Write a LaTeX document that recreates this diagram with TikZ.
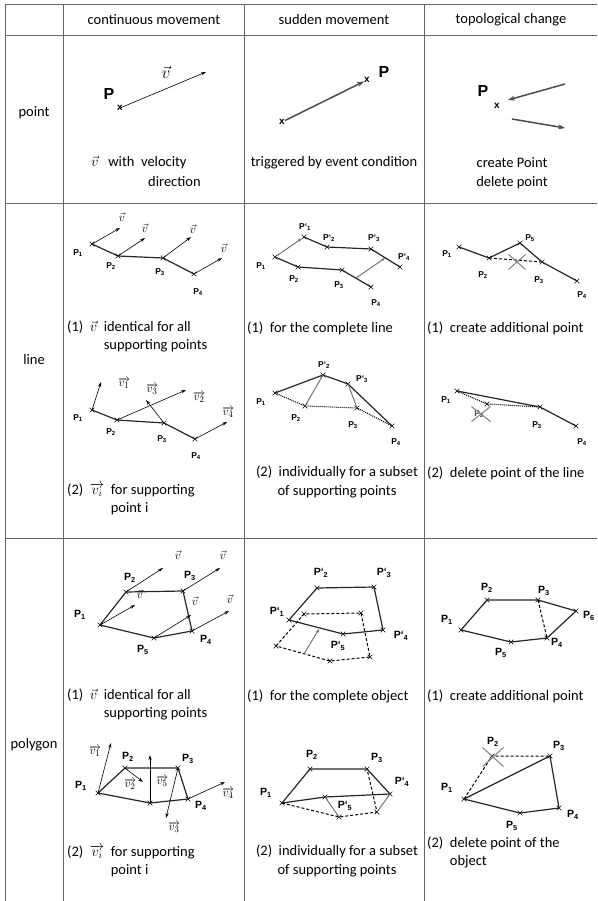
\documentclass[tikz,border=0pt]{standalone}
\usepackage{fontspec}
\setmainfont{Carlito}
\newfontfamily\arialf{Liberation Sans}
\usetikzlibrary{arrows.meta,shapes.misc}
\newcommand{\Pn}[1]{P\textsubscript{#1}}
\newcommand{\Pq}[1]{P‘\textsubscript{#1}}
\tikzset{
  gridl/.style={draw=black!60, line width=0.8pt},
  txt/.style={font=\fontsize{14.5}{18.5}\selectfont, inner sep=0pt},
  labs/.style={font=\arialf\bfseries\fontsize{8.5}{10}\selectfont, inner sep=0pt},
  labm/.style={font=\arialf\bfseries\fontsize{10.5}{12}\selectfont, inner sep=0pt},
  bigP/.style={font=\arialf\bfseries\fontsize{16}{18}\selectfont, inner sep=0pt},
  xt/.style={font=\arialf\bfseries\fontsize{10}{10}\selectfont, inner sep=0pt},
  xm/.style={cross out, draw, minimum size=4pt, inner sep=0pt, line width=0.6pt},
  gX/.style={cross out, draw=black!50, line width=1pt, inner sep=0pt},
  vec/.style={-{Stealth[length=5pt,width=3.2pt]}, line width=0.6pt},
  gvec/.style={-{Stealth[length=7pt,width=5pt]}, line width=1.5pt, draw=black!70},
  garr/.style={-{Stealth[length=4pt,width=3pt]}, line width=1pt, draw=black!55},
  gseg/.style={line width=1pt, draw=black!55},
  edg/.style={line width=1.2pt, draw=black!85},
  dsh/.style={line width=1pt, dash pattern=on 3pt off 2pt},
  dts/.style={line width=1.1pt, dash pattern=on 1pt off 1pt},
  vl/.style={inner sep=0pt, font=\fontsize{12.5}{12.5}\selectfont},
  vlbig/.style={inner sep=0pt, font=\fontsize{17}{17}\selectfont}
}
\begin{document}
\begin{tikzpicture}[x=1pt,y=-1pt]
\useasboundingbox (0,0) rectangle (597,901);
% grid
\draw[gridl] (5,4) -- (597,4);
\draw[gridl] (5,35) -- (597,35);
\draw[gridl] (5,203) -- (597,203);
\draw[gridl] (5,538) -- (597,538);
\draw[gridl] (5,4) -- (5,901);
\draw[gridl] (63,4) -- (63,901);
\draw[gridl] (244,4) -- (244,901);
\draw[gridl] (424,4) -- (424,901);
% headers
\node[txt] (h1) at (154,19.5) {continuous movement};
\node[txt] (h2) at (334,19.5) {sudden movement};
\node[txt] (h3) at (511,19.5) {topological change};
\node[txt] (r1) at (34,113) {point};
\node[txt] (r2) at (34,360) {line};
\node[txt] (r3) at (34,745) {polygon};

% ---------- point row ----------
\node[bigP] (pA) at (109,94) {P};
\node[xt] (pAx) at (120,108) {x};
\coordinate (pAv) at (206,72);
\draw[vec] (pAx.center) -- (pAv);
\node[vlbig] (pAt) at (166,72) {$\vec{v}$};
\node[txt, anchor=west] (pAd) at (91,163) {$\vec{v}$\ \ \ with\ \ velocity};
\node[txt, anchor=west] (pAe) at (148,182) {direction};

\node[xt] (pBx) at (282,122) {x};
\node[xt] (pBy) at (367,80) {x};
\node[bigP] (pB) at (384,72) {P};
\draw[gvec] (pBx) -- (pBy);
\node[txt] (pBd) at (334,163) {triggered by event condition};

\node[bigP] (pC) at (483,91) {P};
\node[xt] (pCx) at (497,106) {x};
\coordinate (pCa) at (565,84);
\coordinate (pCt) at (508,100);
\coordinate (pCs) at (512,119);
\coordinate (pCb) at (565,128);
\draw[gvec] (pCa) -- (pCt);
\draw[gvec] (pCs) -- (pCb);
\node[txt, align=center] (pCd) at (512,173) {create Point\\delete point};

% ---------- line row, col 1 (1) ----------
\node[xm] (la1) at (92,244) {};
\node[xm] (la2) at (118,256) {};
\node[xm] (la3) at (163,258) {};
\node[xm] (la4) at (194,274) {};
\draw[edg] (la1.center) -- (la2.center) -- (la3.center) -- (la4.center);
\coordinate (la1v) at (120,228);
\coordinate (la2v) at (145,238);
\coordinate (la3v) at (191,237);
\coordinate (la4v) at (222,258);
\draw[vec] (la1.center) -- (la1v);
\draw[vec] (la2.center) -- (la2v);
\draw[vec] (la3.center) -- (la3v);
\draw[vec] (la4.center) -- (la4v);
\node[vl] (la1t) at (122,217) {$\vec{v}$};
\node[vl] (la2t) at (145,228) {$\vec{v}$};
\node[vl] (la3t) at (193,229) {$\vec{v}$};
\node[vl] (la4t) at (224,248) {$\vec{v}$};
\node[labs] (la1l) at (78,253) {\Pn{1}};
\node[labs] (la2l) at (111,266) {\Pn{2}};
\node[labs] (la3l) at (160,272) {\Pn{3}};
\node[labs] (la4l) at (198,292) {\Pn{4}};
\node[txt, anchor=north west] (lad) at (67,318) {\begin{tabular}{@{}l@{\ \ }l@{}}(1)\ \ $\vec{v}$ & identical for all\\ & supporting points\end{tabular}};

% ---------- line row, col 1 (2) ----------
\node[xm] (lb1) at (92,410) {};
\node[xm] (lb2) at (117,420) {};
\node[xm] (lb3) at (164,423) {};
\node[xm] (lb4) at (195,439) {};
\draw[edg] (lb1.center) -- (lb2.center) -- (lb3.center) -- (lb4.center);
\coordinate (lb1v) at (101,382);
\coordinate (lb2v) at (186,390);
\coordinate (lb3v) at (146,400);
\coordinate (lb4v) at (227,422);
\draw[vec] (lb1.center) -- (lb1v);
\draw[vec] (lb2.center) -- (lb2v);
\draw[vec] (lb3.center) -- (lb3v);
\draw[vec] (lb4.center) -- (lb4v);
\node[vl] (lb1t) at (124,383) {$\overrightarrow{v_1}$};
\node[vl] (lb2t) at (199,397) {$\overrightarrow{v_2}$};
\node[vl] (lb3t) at (152,389) {$\overrightarrow{v_3}$};
\node[vl] (lb4t) at (228,412) {$\overrightarrow{v_4}$};
\node[labs] (lb1l) at (78,418) {\Pn{1}};
\node[labs] (lb2l) at (111,432) {\Pn{2}};
\node[labs] (lb3l) at (162,439) {\Pn{3}};
\node[labs] (lb4l) at (196,456) {\Pn{4}};
\node[txt, anchor=north west] (lbd) at (67,481) {\begin{tabular}{@{}l@{\ \ }l@{}}(2)\ \ $\overrightarrow{v_i}$ & for supporting\\ & point i\end{tabular}};

% ---------- line row, col 2 (1) ----------
\node[xm] (lc1) at (275,257) {};
\node[xm] (lc2) at (298,267) {};
\node[xm] (lc3) at (342,270) {};
\node[xm] (lc4) at (371,287) {};
\node[xm] (lc1q) at (304,237) {};
\node[xm] (lc2q) at (327,247) {};
\node[xm] (lc3q) at (371,249) {};
\node[xm] (lc4q) at (400,267) {};
\draw[edg] (lc1.center) -- (lc2.center) -- (lc3.center) -- (lc4.center);
\draw[edg] (lc1q.center) -- (lc2q.center) -- (lc3q.center) -- (lc4q.center);
\draw[garr] (lc1) -- (lc1q);
\coordinate (lcm) at (356,278);
\coordinate (lcn) at (385,258);
\draw[garr] (lcm) -- (lcn);
\node[labs] (lc1ql) at (305,227) {\Pq{1}};
\node[labs] (lc2ql) at (329,238) {\Pq{2}};
\node[labs] (lc3ql) at (374,238) {\Pq{3}};
\node[labs] (lc4ql) at (404,257) {\Pq{4}};
\node[labs] (lc1l) at (261,266) {\Pn{1}};
\node[labs] (lc2l) at (294,279) {\Pn{2}};
\node[labs] (lc3l) at (339,285) {\Pn{3}};
\node[labs] (lc4l) at (376,303) {\Pn{4}};
\node[txt, anchor=west] (lcd) at (247,328) {(1)\ \ for the complete line};

% ---------- line row, col 2 (2) ----------
\node[xm] (ld1) at (275,393) {};
\node[xm] (ld2) at (305,406) {};
\node[xm] (ld3) at (357,408) {};
\node[xm] (ld4) at (392,426) {};
\node[xm] (ld2q) at (323,375) {};
\node[xm] (ld3q) at (348,384) {};
\draw[dts] (ld1.center) -- (ld2.center) -- (ld3.center) -- (ld4.center);
\draw[edg] (ld1.center) -- (ld2q.center) -- (ld3q.center) -- (ld4.center);
\draw[gseg] (ld2.center) -- (ld2q.center);
\draw[gseg] (ld3.center) -- (ld3q.center);
\node[labs] (ld2ql) at (324,365) {\Pq{2}};
\node[labs] (ld3ql) at (362,379) {\Pq{3}};
\node[labs] (ld1l) at (261,402) {\Pn{1}};
\node[labs] (ld2l) at (296,418) {\Pn{2}};
\node[labs] (ld3l) at (353,425) {\Pn{3}};
\node[labs] (ld4l) at (396,442) {\Pn{4}};
\node[txt, align=center] (ldd) at (337,482) {(2)\ \ individually for a subset\\of supporting points};

% ---------- line row, col 3 (1) ----------
\node[xm] (le1) at (459,247) {};
\node[xm] (le2) at (489,258) {};
\node[xm] (le5) at (520,243) {};
\node[xm] (le3) at (542,262) {};
\node[xm] (le4) at (577,281) {};
\draw[dsh] (le2.center) -- (le3.center);
\draw[edg] (le1.center) -- (le2.center) -- (le5.center) -- (le3.center) -- (le4.center);
\node[gX, minimum width=16pt, minimum height=14pt] (leX) at (517,262) {};
\node[labs] (le1l) at (447,254) {\Pn{1}};
\node[labs] (le2l) at (483,275) {\Pn{2}};
\node[labs] (le5l) at (530,238) {\Pn{5}};
\node[labs] (le3l) at (539,280) {\Pn{3}};
\node[labs] (le4l) at (582,295) {\Pn{4}};
\node[txt, anchor=west] (led) at (427,328) {(1)\ \ create additional point};

% ---------- line row, col 3 (2) ----------
\node[xm] (lf1) at (457,391) {};
\node[xm] (lf2) at (487,404) {};
\node[xm] (lf3) at (540,407) {};
\node[xm] (lf4) at (576,426) {};
\draw[dts] (lf1.center) -- (lf2.center) -- (lf3.center);
\draw[edg] (lf1.center) -- (lf3.center) -- (lf4.center);
\node[labs, text=black!70] (lf2l) at (479,414) {\Pn{2}};
\node[gX, minimum width=18pt, minimum height=14pt] (lfX) at (481,414) {};
\node[labs] (lf1l) at (446,400) {\Pn{1}};
\node[labs] (lf3l) at (537,425) {\Pn{3}};
\node[labs] (lf4l) at (582,442) {\Pn{4}};
\node[txt, anchor=west] (lfd) at (427,473) {(2)\ \ delete point of the line};

% ---------- polygon row, col 1 (1) ----------
\node[xm] (ga1) at (100,625) {};
\node[xm] (ga2) at (126,592) {};
\node[xm] (ga3) at (183,591) {};
\node[xm] (ga4) at (192,631) {};
\node[xm] (ga5) at (154,638) {};
\draw[edg] (ga1.center) -- (ga2.center) -- (ga3.center) -- (ga4.center) -- (ga5.center) -- cycle;
\coordinate (ga1v) at (135,605);
\coordinate (ga2v) at (163,568);
\coordinate (ga3v) at (220,568);
\coordinate (ga4v) at (229,611);
\coordinate (ga5v) at (191,615);
\draw[vec] (ga1.center) -- (ga1v);
\draw[vec] (ga2.center) -- (ga2v);
\draw[vec] (ga3.center) -- (ga3v);
\draw[vec] (ga4.center) -- (ga4v);
\draw[vec] (ga5.center) -- (ga5v);
\node[vl] (ga1t) at (140,594) {$\vec{v}$};
\node[vl] (ga2t) at (178,555) {$\vec{v}$};
\node[vl] (ga3t) at (223,555) {$\vec{v}$};
\node[vl] (ga4t) at (230,599) {$\vec{v}$};
\node[vl] (ga5t) at (195,601) {$\vec{v}$};
\node[labm] (ga1l) at (80,615) {\Pn{1}};
\node[labm] (ga2l) at (130,578) {\Pn{2}};
\node[labm] (ga3l) at (190,576) {\Pn{3}};
\node[labm] (ga4l) at (206,640) {\Pn{4}};
\node[labm] (ga5l) at (143,650) {\Pn{5}};
\node[txt, anchor=north west] (gad) at (67,686) {\begin{tabular}{@{}l@{\ \ }l@{}}(1)\ \ $\vec{v}$ & identical for all\\ & supporting points\end{tabular}};

% ---------- polygon row, col 1 (2) ----------
\node[xm] (gb1) at (98,793) {};
\node[xm] (gb2) at (125,768) {};
\node[xm] (gb3) at (178,768) {};
\node[xm] (gb4) at (188,799) {};
\node[xm] (gb5) at (150,803) {};
\draw[edg] (gb1.center) -- (gb2.center) -- (gb3.center) -- (gb4.center) -- (gb5.center) -- cycle;
\coordinate (gb1v) at (111,743);
\coordinate (gb2v) at (143,782);
\coordinate (gb3v) at (166,818);
\coordinate (gb4v) at (225,782);
\coordinate (gb5v) at (150,755);
\draw[vec] (gb1.center) -- (gb1v);
\draw[vec] (gb2.center) -- (gb2v);
\draw[vec] (gb3.center) -- (gb3v);
\draw[vec] (gb4.center) -- (gb4v);
\draw[vec] (gb5.center) -- (gb5v);
\node[vl] (gb1t) at (95,751) {$\overrightarrow{v_1}$};
\node[vl] (gb2t) at (130,784) {$\overrightarrow{v_2}$};
\node[vl] (gb5t) at (162,781) {$\overrightarrow{v_5}$};
\node[vl] (gb3t) at (174,827) {$\overrightarrow{v_3}$};
\node[vl] (gb4t) at (228,793) {$\overrightarrow{v_4}$};
\node[labm] (gb1l) at (81,786) {\Pn{1}};
\node[labm] (gb2l) at (128,757) {\Pn{2}};
\node[labm] (gb3l) at (188,759) {\Pn{3}};
\node[labm] (gb4l) at (201,806) {\Pn{4}};
\node[txt, anchor=north west] (gbd) at (67,843) {\begin{tabular}{@{}l@{\ \ }l@{}}(2)\ \ $\overrightarrow{v_i}$ & for supporting\\ & point i\end{tabular}};

% ---------- polygon row, col 2 (1) ----------
\node[xm] (gc1q) at (289,620) {};
\node[xm] (gc2q) at (317,588) {};
\node[xm] (gc3q) at (374,587) {};
\node[xm] (gc4q) at (383,630) {};
\node[xm] (gc5q) at (343,634) {};
\node[xm] (gc1) at (276,646) {};
\node[xm] (gc2) at (304,614) {};
\node[xm] (gc3) at (361,613) {};
\node[xm] (gc4) at (370,657) {};
\node[xm] (gc5) at (330,661) {};
\draw[dsh] (gc1.center) -- (gc2.center) -- (gc3.center) -- (gc4.center) -- (gc5.center) -- cycle;
\draw[edg] (gc1q.center) -- (gc2q.center) -- (gc3q.center) -- (gc4q.center) -- (gc5q.center) -- cycle;
\coordinate (gcm) at (304,654);
\coordinate (gcn) at (319,629);
\draw[garr] (gcm) -- (gcn);
\node[labm] (gc2ql) at (321,573) {\Pq{2}};
\node[labm] (gc3ql) at (384,573) {\Pq{3}};
\node[labm] (gc1ql) at (277,612) {\Pq{1}};
\node[labm] (gc4ql) at (401,636) {\Pq{4}};
\node[labm] (gc5ql) at (338,646) {\Pq{5}};
\node[txt, anchor=west] (gcd) at (247,696) {(1)\ \ for the complete object};

% ---------- polygon row, col 2 (2) ----------
\node[xm] (gd1) at (282,803) {};
\node[xm] (gd2) at (310,769) {};
\node[xm] (gd3) at (367,769) {};
\node[xm] (gd4) at (377,812) {};
\node[xm] (gd5) at (339,817) {};
\node[xm] (gd4q) at (390,794) {};
\node[xm] (gd5q) at (325,797) {};
\draw[dsh] (gd1.center) -- (gd5.center) -- (gd4.center) -- (gd3.center);
\draw[edg] (gd1.center) -- (gd2.center) -- (gd3.center) -- (gd4q.center) -- (gd5q.center) -- cycle;
\draw[gseg] (gd5.center) -- (gd5q.center);
\draw[gseg] (gd4.center) -- (gd4q.center);
\node[labm] (gd2l) at (312,755) {\Pn{2}};
\node[labm] (gd3l) at (377,758) {\Pn{3}};
\node[labm] (gd4ql) at (402,782) {\Pq{4}};
\node[labm] (gd1l) at (266,793) {\Pn{1}};
\node[labm] (gd5ql) at (345,806) {\Pq{5}};
\node[txt, align=center] (gdd) at (337,861) {(2)\ \ individually for a subset\\of supporting points};

% ---------- polygon row, col 3 (1) ----------
\node[xm] (ge1) at (461,630) {};
\node[xm] (ge2) at (487,600) {};
\node[xm] (ge3) at (538,600) {};
\node[xm] (ge6) at (576,611) {};
\node[xm] (ge4) at (547,638) {};
\node[xm] (ge5) at (511,642) {};
\draw[edg] (ge1.center) -- (ge2.center) -- (ge3.center) -- (ge6.center) -- (ge4.center) -- (ge5.center) -- cycle;
\draw[dsh] (ge3.center) -- (ge4.center);
\node[labm] (ge2l) at (487,588) {\Pn{2}};
\node[labm] (ge3l) at (544,591) {\Pn{3}};
\node[labm] (ge6l) at (589,616) {\Pn{6}};
\node[labm] (ge1l) at (447,620) {\Pn{1}};
\node[labm] (ge4l) at (557,643) {\Pn{4}};
\node[labm] (ge5l) at (501,653) {\Pn{5}};
\node[txt, anchor=west] (ged) at (427,696) {(1)\ \ create additional point};

% ---------- polygon row, col 3 (2) ----------
\node[xm] (gf1) at (464,799) {};
\node[xm] (gf2) at (492,756) {};
\node[xm] (gf3) at (550,756) {};
\node[xm] (gf4) at (559,808) {};
\node[xm] (gf5) at (520,813) {};
\draw[dsh] (gf1.center) -- (gf2.center) -- (gf3.center);
\draw[edg] (gf1.center) -- (gf3.center) -- (gf4.center) -- (gf5.center) -- cycle;
\node[gX, minimum width=20pt, minimum height=18pt] (gfX) at (493,757) {};
\node[labm] (gf2l) at (493,742) {\Pn{2}};
\node[labm] (gf3l) at (559,746) {\Pn{3}};
\node[labm] (gf1l) at (447,788) {\Pn{1}};
\node[labm] (gf4l) at (573,815) {\Pn{4}};
\node[labm] (gf5l) at (512,826) {\Pn{5}};
\node[txt, anchor=north west] (gfd) at (427,834) {\begin{tabular}{@{}l@{\ \ }l@{}}(2) & delete point of the\\ & object\end{tabular}};
\end{tikzpicture}
\end{document}
